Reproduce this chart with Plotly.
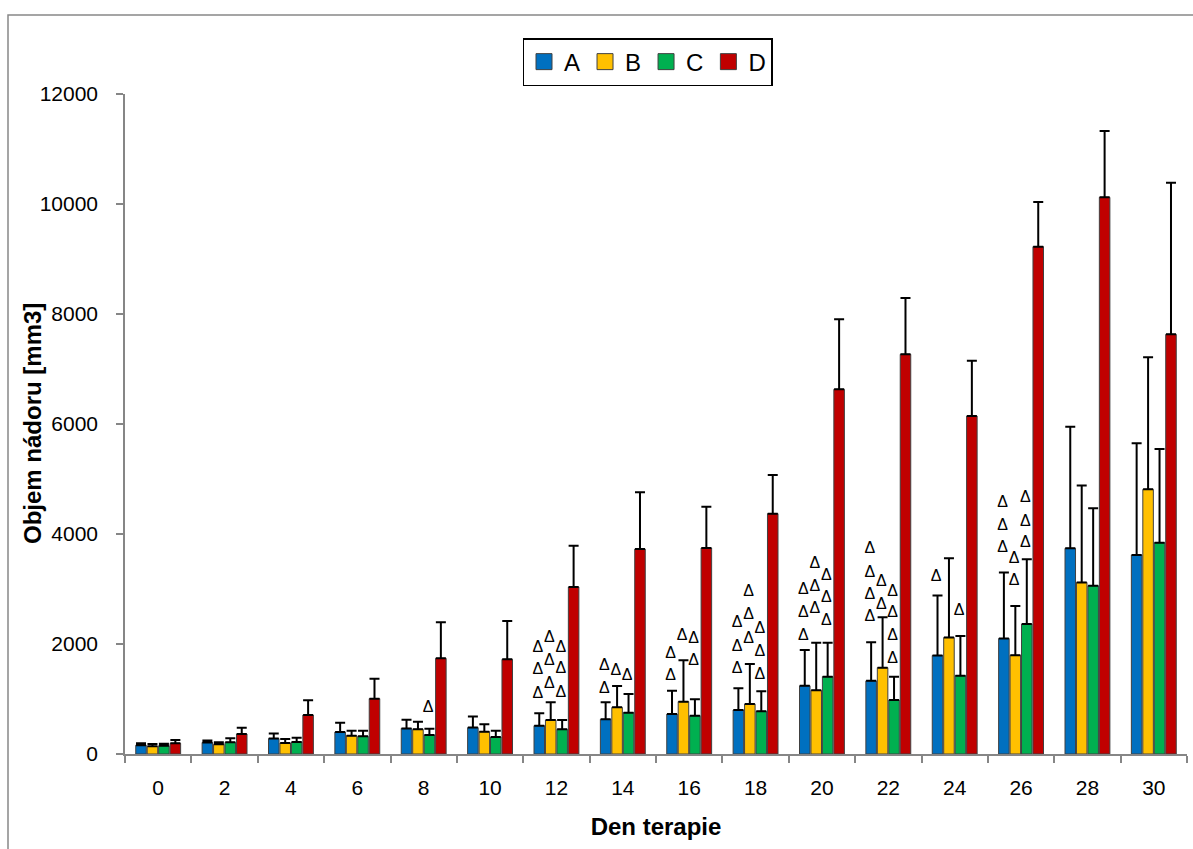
import plotly.graph_objects as go

# ---------------- data ----------------
days = [0, 2, 4, 6, 8, 10, 12, 14, 16, 18, 20, 22, 24, 26, 28, 30]
groups = ["A", "B", "C", "D"]

A_mean = [160, 210, 280, 400, 465, 480, 515, 630, 727, 800, 1240, 1330, 1790, 2100, 3740, 3618]
A_sd = [35, 35, 95, 170, 160, 200, 225, 310, 423, 395, 650, 700, 1090, 1200, 2210, 2032]
B_mean = [140, 176, 200, 333, 450, 406, 618, 848, 952, 910, 1158, 1570, 2120, 1795, 3120, 4812]
B_sd = [40, 36, 73, 91, 138, 133, 322, 388, 751, 726, 866, 915, 1437, 895, 1760, 2400]
C_mean = [150, 212, 218, 321, 345, 309, 449, 752, 697, 776, 1406, 982, 1424, 2363, 3060, 3842]
C_sd = [35, 73, 79, 103, 116, 115, 169, 339, 297, 363, 618, 424, 721, 1177, 1407, 1703]
D_mean = [194, 364, 709, 1006, 1739, 1721, 3036, 3727, 3745, 4370, 6630, 7267, 6145, 9225, 10121, 7630]
D_sd = [61, 115, 267, 364, 655, 697, 752, 1031, 752, 703, 1273, 1024, 1006, 811, 1206, 2757]

# significance marks (Δ): day -> {group: [heights of marks]}
marks = {
    8: {"C": [840]},
    12: {"A": [1100, 1530, 1930], "B": [1270, 1690, 2110], "C": [1110, 1540, 1930]},
    14: {"A": [1190, 1600], "B": [1510], "C": [1420]},
    16: {"A": [1410, 1810], "B": [2150], "C": [1690, 2100]},
    18: {"A": [1540, 1950, 2380], "B": [2100, 2530, 2940], "C": [1440, 1860, 2270]},
    20: {"A": [2150, 2560, 2980], "B": [2640, 3040, 3450], "C": [2420, 2840, 3240]},
    22: {"A": [2500, 2890, 3300, 3720], "B": [2710, 3120], "C": [1720, 2150, 2560, 2950]},
    24: {"A": [3210], "C": [2600]},
    26: {"A": [3740, 4150, 4560], "B": [3150, 3550], "C": [3840, 4220, 4650]},
}

colors = {"A": "#0070C0", "B": "#FFC000", "C": "#00B050", "D": "#C00000"}
means = {"A": A_mean, "B": B_mean, "C": C_mean, "D": D_mean}
sds = {"A": A_sd, "B": B_sd, "C": C_sd, "D": D_sd}

FONT = "Liberation Sans, Arial, sans-serif"
AXIS_COLOR = "#868686"
BARGAP = 0.31
BARGROUPGAP = 0.08

idx = list(range(len(days)))

fig = go.Figure()

for g in groups:
    fig.add_trace(go.Bar(
        x=idx, y=means[g], name=g, showlegend=False,
        marker=dict(color=colors[g], line=dict(color="#404040", width=1)),
        error_y=dict(type="data", symmetric=False, array=sds[g],
                     arrayminus=[0] * len(days), color="black",
                     thickness=2, width=5),
    ))

# legend entries as square markers
for g in groups:
    fig.add_trace(go.Scatter(
        x=[None], y=[None], mode="markers", name=g,
        marker=dict(symbol="square", size=16, color=colors[g],
                    line=dict(color="#404040", width=1)),
    ))

# Δ marks placed over bar centres
slot = (1 - BARGAP) / len(groups)
tx, ty = [], []
for d, gm in marks.items():
    i = days.index(d)
    for g, hs in gm.items():
        k = groups.index(g)
        off = -(1 - BARGAP) / 2 + slot * (k + 0.5)
        for h in hs:
            tx.append(i + off - 0.02)
            ty.append(h)
fig.add_trace(go.Scatter(
    x=tx, y=ty, mode="text", text=["Δ"] * len(tx), showlegend=False,
    textposition="middle center", cliponaxis=False,
    textfont=dict(family=FONT, size=16, color="black"),
    hoverinfo="skip",
))

fig.update_layout(
    width=1193, height=849,
    margin=dict(l=125, r=6, t=94, b=95),
    paper_bgcolor="white", plot_bgcolor="white",
    barmode="group", bargap=BARGAP, bargroupgap=BARGROUPGAP,
    font=dict(family=FONT, color="black"),
    legend=dict(orientation="h", x=0.492, xanchor="center", y=1.0848,
                yanchor="top", font=dict(size=24, family=FONT),
                bordercolor="black", borderwidth=1.5, bgcolor="white",
                traceorder="normal", itemwidth=30),
    showlegend=True,
    shapes=[dict(type="rect", xref="paper", yref="paper",
                 x0=(8 - 125) / 1062, x1=(1220 - 125) / 1062,
                 y0=(754 - 880) / 660, y1=(754 - 15) / 660,
                 line=dict(color="#888888", width=1.5), layer="below")],
    annotations=[dict(text="<b>Objem nádoru [mm3]</b>", textangle=-90,
                      xref="paper", yref="paper", x=(32 - 125) / 1062, y=0.5,
                      xanchor="center", yanchor="middle", showarrow=False,
                      font=dict(size=24, family=FONT, color="black"))],
)

fig.update_xaxes(
    range=[-0.5, len(days) - 0.5], tickmode="array", tickvals=idx,
    ticktext=[str(d) for d in days], ticks="", showgrid=False,
    showline=True, linecolor=AXIS_COLOR, linewidth=1.5, zeroline=False,
    tickfont=dict(size=21, family=FONT), ticklabelstandoff=14,
    minor=dict(tickmode="linear", tick0=-0.5, dtick=1, ticks="outside",
               ticklen=7, tickcolor=AXIS_COLOR, tickwidth=1.5, showgrid=False),
    title=dict(text="<b>Den terapie</b>", font=dict(size=24, family=FONT),
               standoff=20),
)
fig.update_yaxes(
    range=[0, 12000], dtick=2000, tick0=0, tickformat="d",
    ticks="outside", ticklen=7,
    tickcolor=AXIS_COLOR, tickwidth=1.5, showgrid=False, zeroline=False,
    showline=True, linecolor=AXIS_COLOR, linewidth=1.5,
    tickfont=dict(size=21, family=FONT), ticklabelstandoff=14,
)

fig.write_html("out.html")
